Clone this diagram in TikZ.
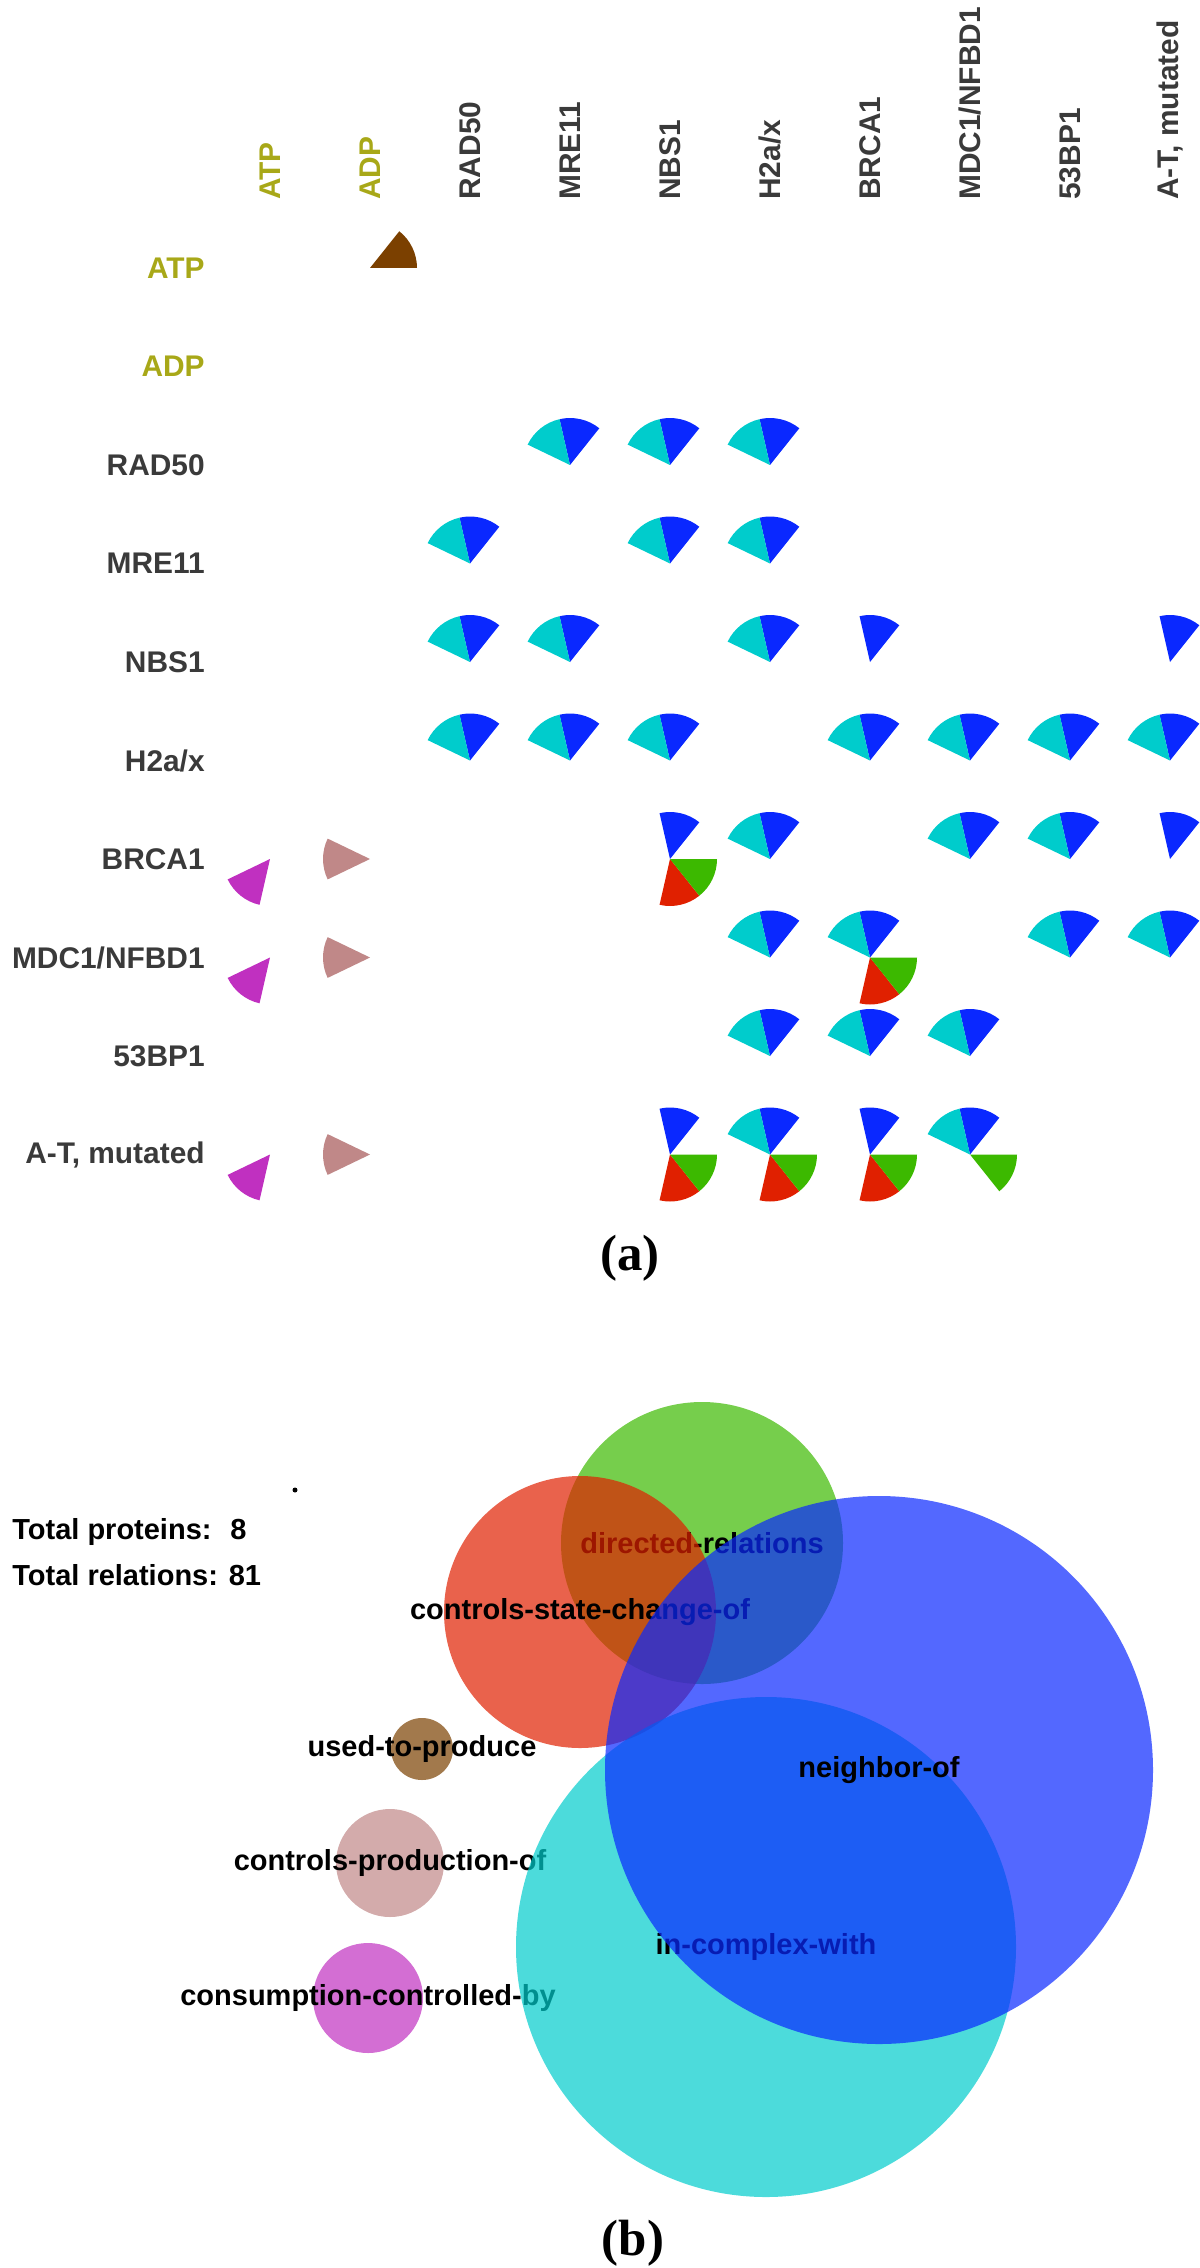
\documentclass[tikz,border=0pt]{standalone}
\usepackage{fontspec}
\setmainfont{Liberation Serif}
\setsansfont{Liberation Sans}
\definecolor{usedprod}{RGB}{123,64,0}
\definecolor{nbr}{RGB}{10,40,255}
\definecolor{cplx}{RGB}{0,204,204}
\definecolor{ctlprod}{RGB}{192,136,136}
\definecolor{consum}{RGB}{192,48,192}
\definecolor{ctlstate}{RGB}{224,32,0}
\definecolor{directed}{RGB}{60,185,0}
\definecolor{metab}{RGB}{168,168,24}
\definecolor{prot}{RGB}{58,58,58}
% one slice of a cell: column, row, slice number (of 7), colour
\newcommand{\slice}[4]{\fill[#4] (270+100*#1,-268-98.5*#2) -- ++({#3*360/7}:47)
    arc[start angle={#3*360/7}, delta angle={360/7}, radius=47] -- cycle;}
\begin{document}
\begin{tikzpicture}[x=0.2mm,y=0.2mm,
    lab/.style={font=\sffamily\bfseries\fontsize{17}{20}\selectfont,inner sep=0pt},
    rel/.style={font=\sffamily\bfseries\fontsize{16.5}{19}\selectfont,inner sep=0pt},
    captext/.style={font=\rmfamily\bfseries\fontsize{29}{34}\selectfont,inner sep=0pt}]
    \useasboundingbox (0,0) rectangle (1200,-2268);
    % (a) row and column names
    \foreach \name/\col [count=\i from 0] in {ATP/metab,ADP/metab,RAD50/prot,MRE11/prot,NBS1/prot,{H2a/x}/prot,BRCA1/prot,{MDC1/NFBD1}/prot,53BP1/prot,{A-T, mutated}/prot} {
        \node[lab,text=\col,anchor=east] (row\i) at (205,-268-98.5*\i) {\name};
        \node[lab,text=\col,anchor=west,rotate=90] (col\i) at (270+100*\i,-200) {\name};
    }
    % (a) cells
    \slice{1}{0}{0}{usedprod}
    \foreach \c/\r in {3/2,4/2,5/2,2/3,4/3,5/3,2/4,3/4,5/4,6/4,9/4,2/5,3/5,4/5,6/5,7/5,8/5,9/5,4/6,5/6,7/6,8/6,9/6,5/7,6/7,8/7,9/7,5/8,6/8,7/8,4/9,5/9,6/9,7/9}
        {\slice{\c}{\r}{1}{nbr}}
    \foreach \c/\r in {3/2,4/2,5/2,2/3,4/3,5/3,2/4,3/4,5/4,2/5,3/5,4/5,6/5,7/5,8/5,9/5,5/6,7/6,8/6,5/7,6/7,8/7,9/7,5/8,6/8,7/8,5/9,7/9}
        {\slice{\c}{\r}{2}{cplx}}
    \foreach \r in {6,7,9} {\slice{1}{\r}{3}{ctlprod} \slice{0}{\r}{4}{consum}}
    \foreach \c/\r in {4/6,6/7,4/9,5/9,6/9} {\slice{\c}{\r}{5}{ctlstate}}
    \foreach \c/\r in {4/6,6/7,4/9,5/9,6/9,7/9} {\slice{\c}{\r}{6}{directed}}
    \node[captext] (capa) at (630,-1258) {(a)};
    % (b) overlapping relation sets
    \fill (295,-1490) circle[radius=2.5];
    \node[rel,anchor=west] (nprot) at (12,-1532) {Total proteins:~ 8};
    \node[rel,anchor=west] (nrel) at (12,-1575) {Total relations: 81};
    \fill[directed,opacity=.7] (702,-1543) circle[radius=141];
    \node[rel] (dirrel) at (702,-1543) {directed-relations};
    \fill[ctlstate,opacity=.7] (580,-1612) circle[radius=136];
    \node[rel] (ctlst) at (580,-1612) {controls-state-change-of};
    \fill[usedprod,opacity=.7] (422,-1749) circle[radius=31];
    \node[rel] (used) at (422,-1749) {used-to-produce};
    \fill[ctlprod,opacity=.7] (390,-1863) circle[radius=54];
    \node[rel] (ctlpr) at (390,-1863) {controls-production-of};
    \fill[consum,opacity=.7] (368,-1998) circle[radius=55];
    \node[rel] (cons) at (368,-1998) {consumption-controlled-by};
    \fill[cplx,opacity=.7] (766,-1947) circle[radius=250];
    \node[rel] (incpx) at (766,-1947) {in-complex-with};
    \fill[nbr,opacity=.7] (879,-1770) circle[radius=274];
    \node[rel] (neigh) at (879,-1770) {neighbor-of};
    \node[captext] (capb) at (633,-2243) {(b)};
\end{tikzpicture}
\end{document}
